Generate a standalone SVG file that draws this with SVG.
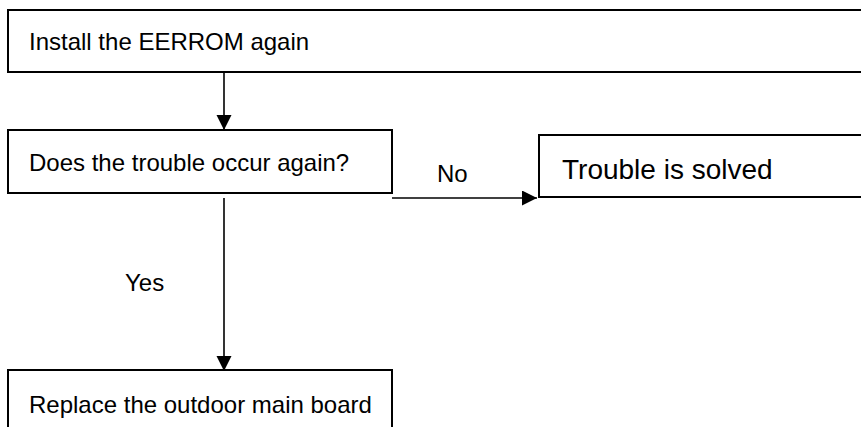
<svg xmlns="http://www.w3.org/2000/svg" width="861" height="427" viewBox="0 0 861 427">
<style>
.box{fill:#fff;stroke:#000;stroke-width:2}
.t{font-family:"Liberation Sans",Arial,sans-serif;font-size:24px;fill:#000}
.c{stroke:#000;stroke-width:1.6;fill:none}
</style>
<defs>
<marker id="ah" markerUnits="userSpaceOnUse" markerWidth="16" markerHeight="16" refX="15" refY="7.5" orient="auto">
<path d="M0,0 L15,7.5 L0,15 Z" fill="#000"/>
</marker>
</defs>
<rect width="861" height="427" fill="#fff"/>
<g id="n1"><rect class="box" x="8" y="10" width="870" height="62"/><text class="t" x="29" y="50">Install the EERROM again</text></g>
<g id="n2"><rect class="box" x="8" y="130" width="384" height="63"/><text class="t" x="29" y="171">Does the trouble occur again?</text></g>
<g id="n3"><rect class="box" x="539" y="135" width="340" height="62"/><text class="t" x="562" y="179" style="font-size:28px">Trouble is solved</text></g>
<g id="n4"><rect class="box" x="8" y="370" width="384" height="70"/><text class="t" x="29" y="413">Replace the outdoor main board</text></g>
<g id="connectors">
<line class="c" x1="224" y1="72" x2="224" y2="130" marker-end="url(#ah)"/>
<line class="c" x1="392" y1="198" x2="537" y2="198" marker-end="url(#ah)"/>
<line class="c" x1="224" y1="198" x2="224" y2="371" marker-end="url(#ah)"/>
<text class="t" x="437" y="182">No</text>
<text class="t" x="125" y="291">Yes</text>
</g>
</svg>
